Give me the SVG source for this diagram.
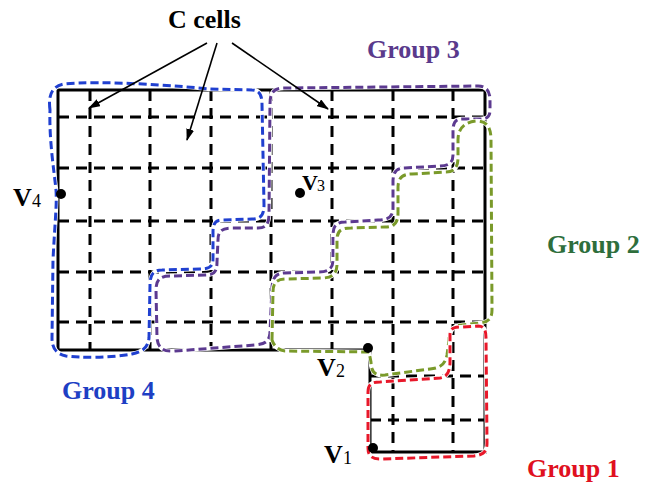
<svg xmlns="http://www.w3.org/2000/svg" width="645" height="483" viewBox="0 0 645 483">
<defs>
<marker id="ah" viewBox="0 0 12 8" refX="11" refY="4" markerWidth="12" markerHeight="8" markerUnits="userSpaceOnUse" orient="auto">
<path d="M0,0 L12,4 L0,8 Z" fill="#000"/>
</marker>
</defs>
<style>
.solid{fill:none;stroke:#000;stroke-width:3;stroke-linejoin:miter}
.grid{fill:none;stroke:#000;stroke-width:3;stroke-dasharray:11 7}
.halo{fill:none;stroke:#fff;stroke-width:4.5;stroke-linejoin:round}
.g{fill:none;stroke-width:3;stroke-dasharray:8 4;stroke-linejoin:round}
.arrow{fill:none;stroke:#000;stroke-width:1.6}
.lbl{font-family:"Liberation Serif","Times New Roman",serif;font-weight:bold;font-size:26px}
.v{font-family:"Liberation Serif","Times New Roman",serif;font-weight:bold;font-size:26px;fill:#000}
.sub{font-family:"Liberation Serif","Times New Roman",serif;font-size:18px;fill:#000}
</style>
<rect width="645" height="483" fill="#fff"/>
<g id="grid">
<path class="grid" d="M90,90 V350 M150,90 V350 M211,90 V350 M271,90 V350 M332,90 V350 M393,90 V452 M453,90 V452"/>
<path class="grid" d="M58,117 H485 M58,168 H485 M58,221 H485 M58,272 H485 M58,322 H485 M370,376 H485 M370,420 H485"/>
<path class="solid" d="M58,90 H485 V452 H370 V350 H58 Z"/>
</g>
<g id="group4">
<path class="halo" d="M50,110 C48,95 52,86 64,84 C100,80 180,86 210,89 L252,90 C260,90 262,96 262,104 L264,205 C264,216 260,219 252,219 L222,220 C215,220 213,224 213,232 L213,260 C213,267 208,269 200,269 L162,270 C153,270 150,275 150,285 L149,338 C148,348 142,352 132,354 C110,358 80,358 66,356 C56,354 52,348 52,338 L53,260 C55,220 57,205 56,190 C54,170 49,140 50,110 Z"/>
<path class="g" stroke="#2040d0" d="M50,110 C48,95 52,86 64,84 C100,80 180,86 210,89 L252,90 C260,90 262,96 262,104 L264,205 C264,216 260,219 252,219 L222,220 C215,220 213,224 213,232 L213,260 C213,267 208,269 200,269 L162,270 C153,270 150,275 150,285 L149,338 C148,348 142,352 132,354 C110,358 80,358 66,356 C56,354 52,348 52,338 L53,260 C55,220 57,205 56,190 C54,170 49,140 50,110 Z"/>
<text class="lbl" x="62" y="399" fill="#1e3fc4">Group 4</text>
</g>
<g id="group3">
<path class="halo" d="M270,104 C270,92 274,88 284,88 L478,86 C487,86 490,92 490,100 L490,110 C490,117 487,119 480,119 L462,119 C455,119 453,123 453,132 L453,155 C453,163 448,166 440,166 L405,168 C396,168 393,172 393,182 L393,208 C393,217 388,220 378,220 L345,222 C336,222 333,226 333,236 L333,260 C333,269 328,272 318,272 L285,273 C276,273 273,277 272,287 L270,333 C269,342 265,344 255,345 L175,351 C163,352 158,348 157,338 L156,290 C156,280 160,276 170,276 L205,275 C214,275 217,272 217,262 L218,240 C218,231 222,228 232,228 L258,228 C266,228 269,224 269,214 Z"/>
<path class="g" stroke="#5c3a90" d="M270,104 C270,92 274,88 284,88 L478,86 C487,86 490,92 490,100 L490,110 C490,117 487,119 480,119 L462,119 C455,119 453,123 453,132 L453,155 C453,163 448,166 440,166 L405,168 C396,168 393,172 393,182 L393,208 C393,217 388,220 378,220 L345,222 C336,222 333,226 333,236 L333,260 C333,269 328,272 318,272 L285,273 C276,273 273,277 272,287 L270,333 C269,342 265,344 255,345 L175,351 C163,352 158,348 157,338 L156,290 C156,280 160,276 170,276 L205,275 C214,275 217,272 217,262 L218,240 C218,231 222,228 232,228 L258,228 C266,228 269,224 269,214 Z"/>
<text class="lbl" x="367" y="58" fill="#5a3a8c">Group 3</text>
</g>
<g id="group2">
<path class="halo" d="M272,340 L273,292 C273,282 277,279 287,279 L322,278 C332,278 337,274 337,264 L337,240 C337,231 341,228 351,228 L385,227 C394,227 398,223 398,213 L398,188 C398,178 402,174 412,174 L445,172 C454,172 458,168 458,158 L458,140 C458,128 465,122 476,121 C487,121 491,127 491,140 L492,310 C492,319 488,322 480,323 L462,325 C453,326 449,330 449,340 L447,355 C445,365 440,368 430,369 L385,375 C375,376 371,372 371,362 L369,352 L285,351 C278,350 274,346 272,340 Z"/>
<path class="g" stroke="#7a9a2a" d="M272,340 L273,292 C273,282 277,279 287,279 L322,278 C332,278 337,274 337,264 L337,240 C337,231 341,228 351,228 L385,227 C394,227 398,223 398,213 L398,188 C398,178 402,174 412,174 L445,172 C454,172 458,168 458,158 L458,140 C458,128 465,122 476,121 C487,121 491,127 491,140 L492,310 C492,319 488,322 480,323 L462,325 C453,326 449,330 449,340 L447,355 C445,365 440,368 430,369 L385,375 C375,376 371,372 371,362 L369,352 L285,351 C278,350 274,346 272,340 Z"/>
<text class="lbl" x="547" y="253" fill="#2e6e3c">Group 2</text>
</g>
<g id="group1">
<path class="halo" d="M368,392 C368,384 372,382 380,382 L440,378 C447,377 450,372 450,362 L450,335 C450,328 454,327 462,327 L478,326 C484,326 486,330 486,338 L487,443 C487,452 483,455 474,456 L380,459 C371,459 368,455 368,448 Z"/>
<path class="g" stroke="#e8182a" d="M368,392 C368,384 372,382 380,382 L440,378 C447,377 450,372 450,362 L450,335 C450,328 454,327 462,327 L478,326 C484,326 486,330 486,338 L487,443 C487,452 483,455 474,456 L380,459 C371,459 368,455 368,448 Z"/>
<text class="lbl" x="527" y="477" fill="#e01020">Group 1</text>
</g>
<g id="v4">
<circle cx="61" cy="194" r="5" fill="#000"/>
<text class="v" x="13" y="206">V</text><text class="sub" x="32" y="207">4</text>
</g>
<g id="v3">
<circle cx="300" cy="193" r="5" fill="#000"/>
<text class="v" x="302" y="190" style="font-size:22px">V</text><text class="sub" x="317" y="191" style="font-size:16px">3</text>
</g>
<g id="v2">
<circle cx="368" cy="348" r="5" fill="#000"/>
<text class="v" x="317" y="376">V</text><text class="sub" x="336" y="377">2</text>
</g>
<g id="v1">
<circle cx="373" cy="448" r="5" fill="#000"/>
<text class="v" x="324" y="463">V</text><text class="sub" x="343" y="464">1</text>
</g>
<g id="ccells">
<text class="lbl" x="168" y="28" fill="#000">C cells</text>
</g>
<g id="connectors">
<path class="arrow" marker-end="url(#ah)" d="M207,43 L89,108"/>
<path class="arrow" marker-end="url(#ah)" d="M217,43 L187,140"/>
<path class="arrow" marker-end="url(#ah)" d="M232,43 L328,109"/>
</g>
</svg>
